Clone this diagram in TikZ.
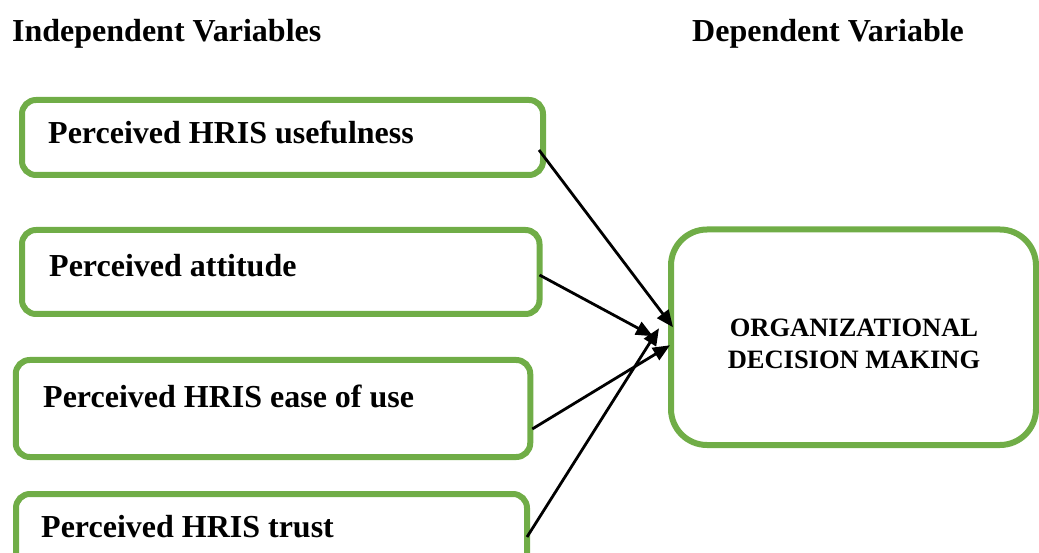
\documentclass[tikz,border=0pt]{standalone}
\usepackage{fontspec}
\setmainfont{Liberation Serif}
\usetikzlibrary{arrows.meta}
\definecolor{boxgreen}{HTML}{70AD47}
\newcommand{\hfont}{\fontsize{32}{38}\selectfont\bfseries}
\newcommand{\dvfont}{\fontsize{26.5}{32}\selectfont\bfseries}

\begin{document}
\begin{tikzpicture}[x=1pt,y=1pt,
  varbox/.style={draw=boxgreen,line width=6pt,rounded corners=14pt,outer sep=0pt,inner sep=0pt},
  vartext/.style={anchor=base west,inner sep=0,font=\hfont},
  link/.style={line width=2.8pt,-{Triangle[length=17pt,width=14pt]}}]
\useasboundingbox (0,0) rectangle (1039,552);
\node[vartext] (hiv) at (12,510.5) {Independent Variables};
\node[vartext] (hdv) at (692,510.5) {Dependent Variable};
% independent variables
\node[varbox,minimum width=521pt,minimum height=75pt] (iv1) at (282.5,414.5) {};
\node[vartext] (t1) at (48,408.5) {Perceived HRIS usefulness};
\node[varbox,minimum width=517.5pt,minimum height=84pt] (iv2) at (280.75,280) {};
\node[vartext] (t2) at (49,275.5) {Perceived attitude};
\node[varbox,minimum width=514.5pt,minimum height=97pt] (iv3) at (273,143.5) {};
\node[vartext] (t3) at (43,144.5) {Perceived HRIS ease of use};
\node[varbox,minimum width=511pt,minimum height=90pt] (iv4) at (271.5,13) {};
\node[vartext] (t4) at (41,14.5) {Perceived HRIS trust};
% dependent variable
\node[varbox,rounded corners=36pt,minimum width=365pt,minimum height=215.5pt] (dv) at (853.5,214.75) {};
\node[align=center,inner sep=0,font=\dvfont] (dvt) at (854,208) {ORGANIZATIONAL\\DECISION MAKING};
\draw[link] ([xshift=-4pt,yshift=-12.5pt]iv1.east) -- ([xshift=2pt,yshift=10pt]dv.west);
\draw[link] ([xshift=0pt,yshift=-3pt]iv2.east) -- ([xshift=-18pt,yshift=1pt]dv.west);
\draw[link] ([xshift=2pt,yshift=-20.5pt]iv3.east) -- ([xshift=-1pt,yshift=-8pt]dv.west);
\draw[link] ([xshift=0pt,yshift=2pt]iv4.east) -- ([xshift=-12pt,yshift=9pt]dv.west);
\end{tikzpicture}
\end{document}
